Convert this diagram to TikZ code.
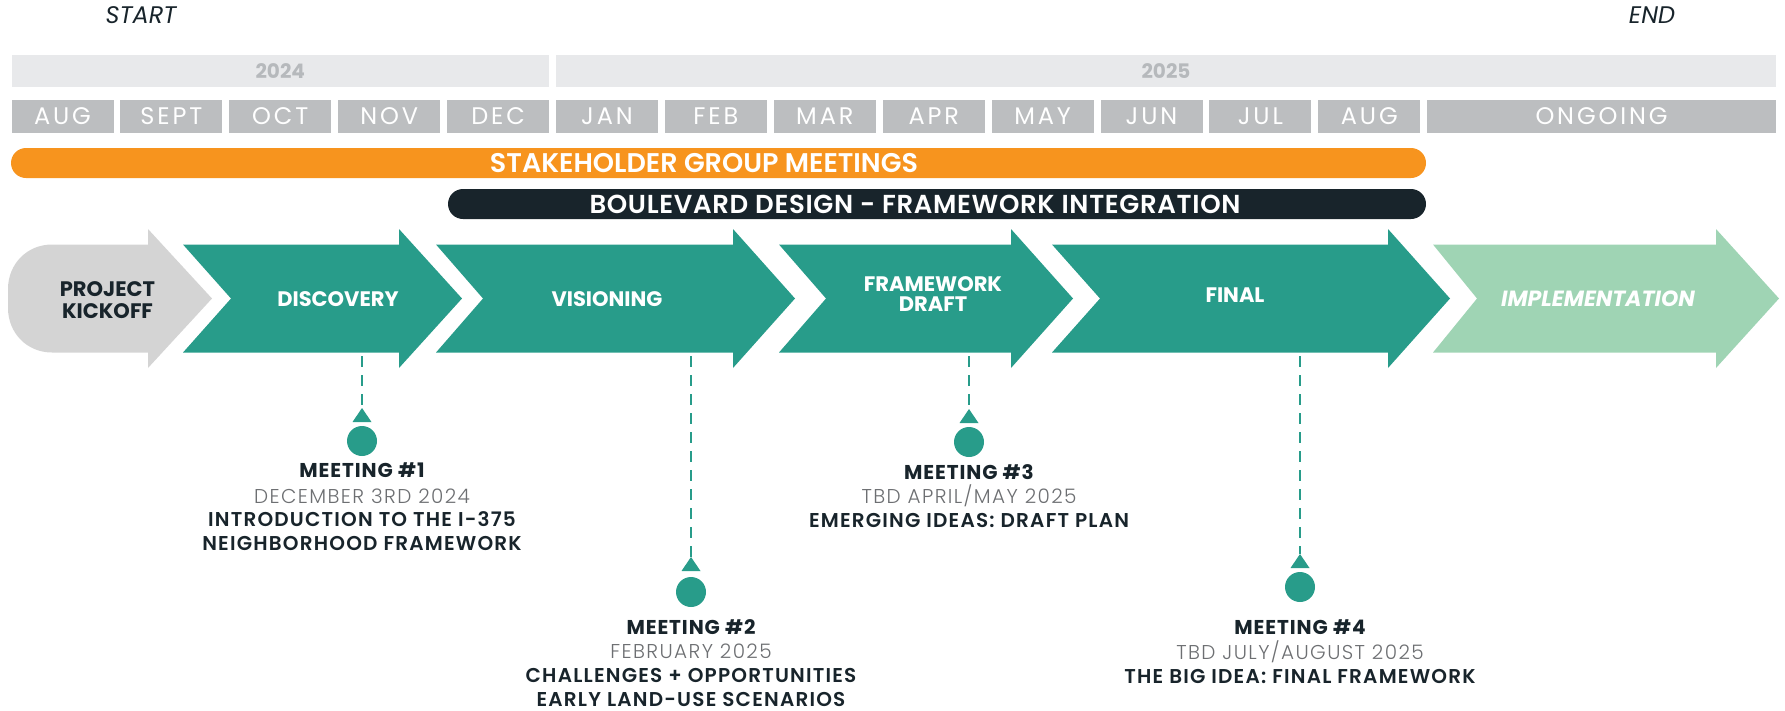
\documentclass[tikz,border=0pt]{standalone}
\usepackage{fontspec}
\setmainfont{Poppins}
\IfFontExistsTF{Poppins Light}{\newfontfamily\lightf{Poppins Light}}{\newfontfamily\lightf{Poppins}}
\IfFontExistsTF{Poppins Medium}{\newfontfamily\medf{Poppins Medium}}{\newfontfamily\medf{Poppins}}
\IfFontExistsTF{Poppins SemiBold}{\newfontfamily\semif{Poppins SemiBold}}{\newfontfamily\semif{Poppins}}
\definecolor{tealA}{HTML}{289C8A}
\definecolor{mintA}{HTML}{9FD4B4}
\definecolor{kickgray}{HTML}{D4D4D4}
\definecolor{orangeA}{HTML}{F7941E}
\definecolor{darkA}{HTML}{18242B}
\definecolor{monthgray}{HTML}{BCBEC0}
\definecolor{yeargray}{HTML}{E8E9EB}
\definecolor{yeartext}{HTML}{B6B9BC}
\definecolor{datetext}{HTML}{6D6F72}
\newcommand{\fs}[1]{\fontsize{#1}{#1}\selectfont}
\newcommand{\lsp}[1]{\addfontfeature{LetterSpace=#1}}
\newcommand{\chevron}[5]{\fill[#1] (#2,244.5) -- (#4,244.5) -- (#4,229) -- (#5,298.5) -- (#4,368) -- (#4,352.5) -- (#2,352.5) -- (#3,298.5) -- cycle;}
\newcommand{\meetmark}[4]{%
  \coordinate (#1a) at (#2,356);
  \coordinate (#1b) at (#2,#3);
  \draw[meetline] (#1a) -- (#1b);
  \fill[tealA] (#1b) -- ++(-9.5,14) -- ++(19,0) -- cycle;
  \node[dot] (#1dot) at (#2,#4) {};}
\begin{document}
\begin{tikzpicture}[x=1pt,y=-1pt,
  lbl/.style={inner sep=0pt, anchor=base},
  monbox/.style={fill=monthgray, minimum width=102pt, minimum height=33pt, inner sep=0pt, text=white, font=\fs{24}\lsp{12}},
  yearbox/.style={fill=yeargray, minimum height=32pt, inner sep=0pt, text=yeartext, font=\bfseries\fs{20}},
  steplbl/.style={lbl, text=white, font=\bfseries\fs{21}},
  meetline/.style={tealA, line width=2.6pt, dash pattern=on 11pt off 8pt},
  dot/.style={circle, fill=tealA, minimum size=30pt, inner sep=0pt},
  mtitle/.style={lbl, text=darkA, font=\bfseries\fs{20}\lsp{4.5}},
  mdate/.style={lbl, text=datetext, font=\lightf\fs{20}\lsp{7}},
  mdesc/.style={lbl, text=darkA, font=\semif\fs{20}\lsp{6}},
]
\useasboundingbox (0,0) rectangle (1785,710);

% start / end
\node[lbl, text=darkA, font=\itshape\fs{24}] (start) at (141,23.5) {START};
\node[lbl, text=darkA, font=\itshape\fs{24}] (end) at (1652,23.5) {END};

% years
\node[yearbox, minimum width=537.5pt] (y2024) at (280.25,71) {2024};
\node[yearbox, minimum width=1220pt] (y2025) at (1166,71) {2025};

% months
\foreach \m [count=\i from 0] in {AUG,SEPT,OCT,NOV,DEC,JAN,FEB,MAR,APR,MAY,JUN,JUL,AUG}
  \node[monbox] (mon\i) at ({62.5+108.9*\i},116.5) {\m};
\node[monbox, minimum width=349pt] (ongoing) at (1601.5,116.5) {ONGOING};

% bars
\node[fill=orangeA, rounded corners=15pt, minimum width=1415pt, minimum height=30pt, inner sep=0pt] (stake) at (718.5,163) {};
\node[lbl, text=white, font=\semif\fs{27}] (staketext) at (704,172.5) {STAKEHOLDER GROUP MEETINGS};
\node[fill=darkA, rounded corners=15pt, minimum width=978pt, minimum height=30pt, inner sep=0pt] (blvd) at (937,204) {};
\node[lbl, text=white, font=\semif\fs{26}\lsp{2.6}] (blvdtext) at (915,213) {BOULEVARD DESIGN - FRAMEWORK INTEGRATION};

% arrows
\fill[kickgray] (148,244.5) -- (52,244.5) .. controls (27,244.5) and (8,264) .. (8,289) -- (8,308) .. controls (8,333) and (27,352.5) .. (52,352.5) -- (148,352.5) -- (148,368) -- (212,298.5) -- (148,229) -- cycle;
\chevron{tealA}{183}{231}{399}{462}
\chevron{tealA}{436}{483}{733}{795}
\chevron{tealA}{779}{826}{1011}{1073}
\chevron{tealA}{1052}{1100}{1388}{1450}
\chevron{mintA}{1433}{1477}{1716}{1779}

\node[lbl, text=darkA, font=\bfseries\fs{21}] (kick1) at (107.5,296.7) {PROJECT};
\node[lbl, text=darkA, font=\bfseries\fs{21}] (kick2) at (107.5,318) {KICKOFF};
\node[steplbl] (disc) at (338,306.7) {DISCOVERY};
\node[steplbl] (vis) at (607,306.7) {VISIONING};
\node[steplbl] (fw1) at (933,291.7) {FRAMEWORK};
\node[steplbl] (fw2) at (933,311) {DRAFT};
\node[steplbl] (fin) at (1235,302) {FINAL};
\node[steplbl, font=\bfseries\itshape\fs{22}] (impl) at (1598,306.7) {IMPLEMENTATION};

% meetings
\meetmark{m1}{362}{408}{441}
\meetmark{m2}{691}{557}{592}
\meetmark{m3}{969}{409}{442}
\meetmark{m4}{1300}{554}{587}

\node[mtitle] (m1t) at (362,477.7) {MEETING \#1};
\node[mdate] (m1d) at (362,503) {DECEMBER 3RD 2024};
\node[mdesc] (m1l1) at (362,526.7) {INTRODUCTION TO THE I-375};
\node[mdesc] (m1l2) at (362,550) {NEIGHBORHOOD FRAMEWORK};

\node[mtitle] (m2t) at (691,634.5) {MEETING \#2};
\node[mdate] (m2d) at (691,658.3) {FEBRUARY 2025};
\node[mdesc] (m2l1) at (691,682.5) {CHALLENGES + OPPORTUNITIES};
\node[mdesc] (m2l2) at (691,706.3) {EARLY LAND-USE SCENARIOS};

\node[mtitle] (m3t) at (969,479) {MEETING \#3};
\node[mdate] (m3d) at (969,503.3) {TBD APRIL/MAY 2025};
\node[mdesc] (m3l1) at (969,527.3) {EMERGING IDEAS: DRAFT PLAN};

\node[mtitle] (m4t) at (1300,634.5) {MEETING \#4};
\node[mdate] (m4d) at (1300,659) {TBD JULY/AUGUST 2025};
\node[mdesc] (m4l1) at (1300,683) {THE BIG IDEA: FINAL FRAMEWORK};
\end{tikzpicture}
\end{document}
